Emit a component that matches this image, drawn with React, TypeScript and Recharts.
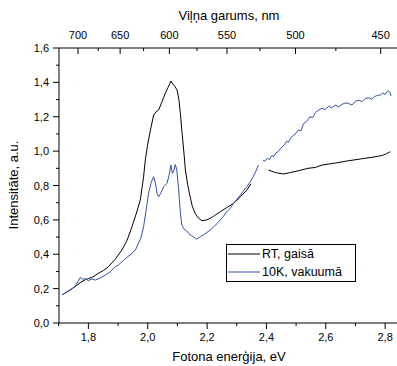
import React from "react";
import { LineChart, Line, XAxis, YAxis } from "recharts";

// RT, gaisā (black)
const rtEnergy = [
  1.715, 1.73, 1.745, 1.76, 1.775, 1.79, 1.8, 1.815, 1.83, 1.85, 1.868, 1.89, 1.913, 1.93, 1.947, 1.962,
  1.975, 1.986, 1.992, 2.0, 2.01, 2.02, 2.028, 2.037, 2.048, 2.059, 2.068, 2.074, 2.078, 2.085, 2.092,
  2.099, 2.105, 2.11, 2.115, 2.122, 2.127, 2.135, 2.143, 2.15, 2.16, 2.17, 2.183, 2.195, 2.211, 2.225,
  2.244, 2.265, 2.289, 2.31, 2.334, 2.348, 2.375, 2.407, 2.43, 2.458, 2.48, 2.508, 2.54, 2.565, 2.587,
  2.63, 2.676, 2.72, 2.766, 2.79, 2.805, 2.817,
];
const rtIntensity = [
  0.168, 0.183, 0.2, 0.218, 0.238, 0.252, 0.258, 0.268, 0.285, 0.305, 0.328, 0.37, 0.425, 0.48, 0.56, 0.64,
  0.716, 0.85, 0.95, 1.04, 1.13, 1.21, 1.228, 1.24, 1.287, 1.336, 1.37, 1.39, 1.408, 1.39, 1.375,
  1.355, 1.3, 1.22, 1.12, 0.99, 0.89, 0.8, 0.735, 0.68, 0.638, 0.612, 0.595, 0.598, 0.609, 0.625,
  0.647, 0.67, 0.696, 0.73, 0.774, 0.81, null, 0.89, 0.875, 0.867, 0.875, 0.886, 0.9, 0.905, 0.919,
  0.93, 0.944, 0.955, 0.967, 0.975, 0.985, 0.997,
];

// 10K, vakuumā (blue)
const vacEnergy = [
  1.711, 1.72, 1.73, 1.738, 1.745, 1.755, 1.765, 1.773, 1.78, 1.79, 1.8, 1.81, 1.824, 1.84, 1.857, 1.875,
  1.891, 1.902, 1.913, 1.93, 1.947, 1.96, 1.969, 1.978, 1.986, 1.995, 2.003, 2.012, 2.02, 2.026, 2.032,
  2.037, 2.045, 2.054, 2.065, 2.072, 2.078, 2.083, 2.087, 2.093, 2.098, 2.104, 2.11, 2.115, 2.123, 2.132,
  2.143, 2.155, 2.165, 2.177, 2.19, 2.2, 2.211, 2.225, 2.235, 2.244, 2.255, 2.265, 2.278, 2.289, 2.3,
  2.31, 2.322, 2.334, 2.345, 2.355, 2.365, 2.373, 2.38, 2.388, 2.395, 2.403, 2.41, 2.418, 2.425, 2.432,
  2.44, 2.45, 2.46, 2.468, 2.474, 2.482, 2.49, 2.5, 2.508, 2.516, 2.525, 2.535, 2.547, 2.556, 2.565,
  2.575, 2.587, 2.598, 2.61, 2.62, 2.632, 2.643, 2.655, 2.665, 2.676, 2.688, 2.7, 2.712, 2.722, 2.733,
  2.745, 2.755, 2.765, 2.775, 2.783, 2.792, 2.8, 2.806, 2.811, 2.816, 2.82,
];
const vacIntensity = [
  0.163, 0.172, 0.185, 0.19, 0.2, 0.212, 0.24, 0.266, 0.255, 0.258, 0.246, 0.256, 0.25, 0.262, 0.279, 0.3,
  0.328, 0.338, 0.357, 0.382, 0.405, 0.43, 0.464, 0.5, 0.56, 0.66, 0.755, 0.82, 0.851, 0.813, 0.75,
  0.735, 0.76, 0.793, 0.813, 0.86, 0.919, 0.87, 0.88, 0.922, 0.89, 0.78, 0.64, 0.57, 0.545, 0.535,
  0.512, 0.5, 0.488, 0.502, 0.515, 0.528, 0.541, 0.565, 0.58, 0.599, 0.62, 0.645, 0.668, 0.696, 0.718,
  0.74, 0.768, 0.793, 0.82, 0.85, 0.885, 0.919, null, 0.948, 0.942, 0.958, 0.952, 0.975, 0.968, 0.99,
  0.998, 1.02, 1.035, 1.058, 1.05, 1.078, 1.09, 1.105, 1.123, 1.118, 1.16, 1.172, 1.2, 1.195, 1.225,
  1.238, 1.249, 1.242, 1.262, 1.252, 1.268, 1.258, 1.272, 1.28, 1.278, 1.268, 1.29, 1.296, 1.288, 1.307,
  1.31, 1.302, 1.318, 1.325, 1.326, 1.338, 1.33, 1.345, 1.351, 1.342, 1.32,
];

const energyTicks = [1.7, 1.8, 1.9, 2.0, 2.1, 2.2, 2.3, 2.4, 2.5, 2.6, 2.7, 2.8];
const energyMajor = [1.8, 2.0, 2.2, 2.4, 2.6, 2.8];
const intensityTicks = [0, 0.1, 0.2, 0.3, 0.4, 0.5, 0.6, 0.7, 0.8, 0.9, 1.0, 1.1, 1.2, 1.3, 1.4, 1.5, 1.6];
const intensityMajor = [0, 0.2, 0.4, 0.6, 0.8, 1.0, 1.2, 1.4, 1.6];
const wavelengthLabels = [700, 675, 650, 625, 600, 575, 550, 525, 500, 475, 450];
const wavelengthPos = [1.765, 1.833, 1.907, 1.986, 2.073, 2.166, 2.267, 2.378, 2.498, 2.634, 2.785];

const rtData = rtEnergy.map((e, i) => ({ e, v: rtIntensity[i] }));
const vacData = vacEnergy.map((e, i) => ({ e, v: vacIntensity[i] }));

const FONT = "'Liberation Sans', Arial, sans-serif";
const BLUE = "#3451a6";

const near = (a: number, list: number[]) => list.some((m) => Math.abs(m - a) < 1e-6);
const comma = (v: number) => v.toFixed(1).replace(".", ",");

function BottomTick({ x, y, payload }: any) {
  const major = near(payload.value, energyMajor);
  return (
    <g>
      <line x1={x} x2={x} y1={y} y2={y + (major ? 6 : 3)} stroke="#000" />
      {major && (
        <text x={x} y={y + 18} textAnchor="middle" fontSize={11} fontFamily={FONT} fill="#000">
          {comma(payload.value)}
        </text>
      )}
    </g>
  );
}

function TopTick({ x, y, payload }: any) {
  const idx = wavelengthPos.findIndex((p) => Math.abs(p - payload.value) < 1e-6);
  const wl = wavelengthLabels[idx];
  const major = wl % 50 === 0;
  return (
    <g>
      <line x1={x} x2={x} y1={y} y2={y + (major ? 6 : 3)} stroke="#000" />
      {major && (
        <text x={x} y={y - 9} textAnchor="middle" fontSize={11} fontFamily={FONT} fill="#000">
          {wl}
        </text>
      )}
    </g>
  );
}

function LeftTick({ x, y, payload }: any) {
  const major = near(payload.value, intensityMajor);
  return (
    <g>
      <line x1={x} x2={x - (major ? 6 : 3)} y1={y} y2={y} stroke="#000" />
      {major && (
        <text x={x - 10} y={y + 4} textAnchor="end" fontSize={11} fontFamily={FONT} fill="#000">
          {comma(payload.value)}
        </text>
      )}
    </g>
  );
}

export default function App() {
  return (
    <div style={{ position: "relative", width: 397, height: 366, background: "#fff" }}>
      <style>{`body{margin:0}`}</style>
      <LineChart width={397} height={366} margin={{ top: 0, right: 0, bottom: 0, left: 0 }}>
        <XAxis
          dataKey="e"
          type="number"
          domain={[1.701, 2.84]}
          ticks={energyTicks}
          interval={0}
          tick={<BottomTick />}
          tickLine={false}
          tickSize={0}
          tickMargin={0}
          height={43}
          axisLine={{ stroke: "#000" }}
          allowDataOverflow
        />
        <XAxis
          xAxisId="top"
          dataKey="e"
          orientation="top"
          type="number"
          domain={[1.701, 2.84]}
          ticks={wavelengthPos}
          interval={0}
          tick={<TopTick />}
          tickLine={false}
          tickSize={0}
          tickMargin={0}
          height={48}
          axisLine={{ stroke: "#000" }}
          allowDataOverflow
        />
        <YAxis
          type="number"
          domain={[0, 1.6]}
          ticks={intensityTicks}
          interval={0}
          tick={<LeftTick />}
          tickLine={false}
          tickSize={0}
          tickMargin={0}
          width={59}
          axisLine={{ stroke: "#000" }}
          allowDataOverflow
        />
        {/* carrier series so the wavelength axis is drawn */}
        <Line
          xAxisId="top"
          data={rtData}
          dataKey="v"
          stroke="none"
          dot={false}
          legendType="none"
          isAnimationActive={false}
        />
        <Line data={rtData} dataKey="v" stroke="#000" strokeWidth={1} dot={false} isAnimationActive={false} />
        <Line data={vacData} dataKey="v" stroke={BLUE} strokeWidth={1} dot={false} isAnimationActive={false} />
      </LineChart>
      <svg width={397} height={366} style={{ position: "absolute", left: 0, top: 0, pointerEvents: "none" }}>
        <text x={229} y={20} textAnchor="middle" fontSize={13} fontFamily={FONT} fill="#000">
          Viļņa garums, nm
        </text>
        <text x={229} y={361} textAnchor="middle" fontSize={13} fontFamily={FONT} fill="#000">
          Fotona enerģija, eV
        </text>
        <text
          x={0}
          y={0}
          transform="translate(18,185) rotate(-90)"
          textAnchor="middle"
          fontSize={13}
          fontFamily={FONT}
          fill="#000"
        >
          Intensitāte, a.u.
        </text>
        <rect x={226.5} y={244.5} width={129} height={37} fill="#fff" stroke="#000" />
        <line x1={228} x2={260} y1={254} y2={254} stroke="#000" />
        <text x={262} y={258} fontSize={12.5} fontFamily={FONT} fill="#000">
          RT, gaisā
        </text>
        <line x1={228} x2={260} y1={272} y2={272} stroke={BLUE} />
        <text x={262} y={276} fontSize={12.5} fontFamily={FONT} fill="#000">
          10K, vakuumā
        </text>
      </svg>
    </div>
  );
}
